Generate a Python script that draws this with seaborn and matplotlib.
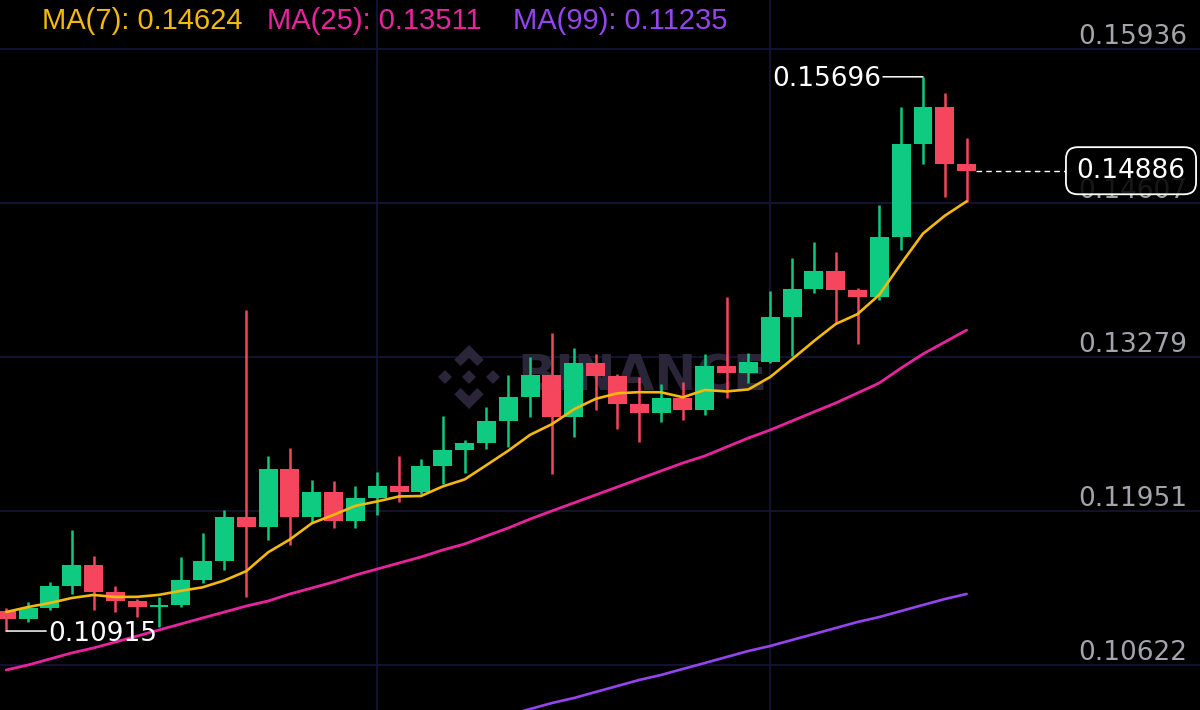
import numpy as np
import pandas as pd
import seaborn as sns
import matplotlib.pyplot as plt
import matplotlib.transforms as mtransforms
from matplotlib.patches import Polygon

# candle data
opens = [0.11088, 0.11019, 0.11114, 0.11304, 0.11485, 0.11252, 0.11174, 0.11122, 0.11140, 0.11355,
         0.11519, 0.11899, 0.11813, 0.12313, 0.11899, 0.12114, 0.11864, 0.12063, 0.12166, 0.12114,
         0.12339, 0.12477, 0.12537, 0.12727, 0.12934, 0.13124, 0.12761, 0.13227, 0.13115, 0.12874,
         0.12796, 0.12925, 0.12822, 0.13201, 0.13141, 0.13236, 0.13624, 0.13866, 0.14021, 0.13857,
         0.13797, 0.14314, 0.15117, 0.15436, 0.14944]
highs = [0.11114, 0.11165, 0.11338, 0.11787, 0.11562, 0.11304, 0.11191, 0.11209, 0.11554, 0.11761,
         0.11959, 0.13684, 0.12425, 0.12494, 0.12218, 0.12209, 0.12166, 0.12287, 0.12425, 0.12399,
         0.12770, 0.12563, 0.12848, 0.13124, 0.13279, 0.13486, 0.13357, 0.13305, 0.13132, 0.13107,
         0.13046, 0.13063, 0.13305, 0.13797, 0.13314, 0.13848, 0.14133, 0.14271, 0.14185, 0.13874,
         0.14590, 0.15436, 0.15696, 0.15556, 0.15168]
lows = [0.10915, 0.10993, 0.11097, 0.11235, 0.11097, 0.11079, 0.11036, 0.10950, 0.11122, 0.11329,
        0.11442, 0.11209, 0.11700, 0.11657, 0.11856, 0.11804, 0.11804, 0.11916, 0.12028, 0.12097,
        0.12183, 0.12278, 0.12485, 0.12503, 0.12761, 0.12270, 0.12589, 0.12822, 0.12658, 0.12546,
        0.12718, 0.12736, 0.12779, 0.12925, 0.13055, 0.13227, 0.13288, 0.13831, 0.13572, 0.13391,
        0.13771, 0.14202, 0.14944, 0.14659, 0.14616]
closes = [0.11019, 0.11114, 0.11304, 0.11485, 0.11252, 0.11174, 0.11122, 0.11140, 0.11355, 0.11519,
          0.11899, 0.11813, 0.12313, 0.11899, 0.12114, 0.11864, 0.12063, 0.12166, 0.12114, 0.12339,
          0.12477, 0.12537, 0.12727, 0.12934, 0.13124, 0.12761, 0.13227, 0.13115, 0.12874, 0.12796,
          0.12925, 0.12822, 0.13201, 0.13141, 0.13236, 0.13624, 0.13866, 0.14021, 0.13857, 0.13797,
          0.14314, 0.15117, 0.15436, 0.14944, 0.14886]

# moving averages (MA7 first points come from candles before the window)
ma7_head = [0.11079, 0.11122, 0.11157, 0.11200, 0.11226, 0.11209]
ma25 = [0.10579, 0.10622, 0.10674, 0.10726, 0.10769, 0.10820, 0.10872, 0.10924, 0.10976, 0.11028,
        0.11079, 0.11131, 0.11174, 0.11235, 0.11286, 0.11338, 0.11398, 0.11450, 0.11502, 0.11554,
        0.11614, 0.11666, 0.11735, 0.11804, 0.11881, 0.11951, 0.12020, 0.12089, 0.12158, 0.12227,
        0.12296, 0.12365, 0.12425, 0.12503, 0.12580, 0.12649, 0.12727, 0.12805, 0.12882, 0.12968,
        0.13055, 0.13184, 0.13305, 0.13408, 0.13511]
ma99_start = 23
ma99 = [0.10191, 0.10242, 0.10294, 0.10337, 0.10389, 0.10441, 0.10493, 0.10536, 0.10588, 0.10639,
        0.10691, 0.10743, 0.10786, 0.10838, 0.10889, 0.10941, 0.10993, 0.11036, 0.11088, 0.11140,
        0.11191, 0.11235]

price_ticks = [0.15936, 0.14607, 0.13279, 0.11951, 0.10622]
ma_labels = ["MA(7): 0.14624", "MA(25): 0.13511", "MA(99): 0.11235"]
high_label = "0.15696"
low_label = "0.10915"
last_price = 0.14886

GREEN = "#0ECB81"
RED = "#F6465D"
GRID = "#15153a"
LABEL = "#a3a3ab"
MA_COLORS = ["#F5B80C", "#E8239E", "#9544EE"]
WM = "#2a2538"

df = pd.DataFrame({"open": opens, "high": highs, "low": lows, "close": closes})
df["idx"] = np.arange(len(df))
df["ma7"] = df["close"].rolling(7).mean()
df.loc[:len(ma7_head) - 1, "ma7"] = ma7_head
df["ma25"] = ma25
df["ma99"] = np.nan
df.loc[ma99_start:, "ma99"] = ma99
df["up"] = df["close"] >= df["open"]

sns.set_theme(style="dark", rc={"axes.facecolor": "black", "figure.facecolor": "black"})
plt.rcParams["font.family"] = ["DejaVu Sans"]

fig = plt.figure(figsize=(12, 7.1), dpi=100)
ax = fig.add_axes([0, 0, 1, 1])
ax.set_facecolor("black")
ax.grid(False)
for s in ax.spines.values():
    s.set_visible(False)
ax.set_xticks([])
ax.set_yticks([])
ax.set_xlim(-0.284, 54.69)
ax.set_ylim(0.102338, 0.163587)

# grid
for p in price_ticks:
    ax.axhline(p, color=GRID, lw=1.2, zorder=1)
for xv in [17, 35]:
    ax.axvline(xv, color=GRID, lw=1.2, zorder=1)

# watermark
ax.text(517 / 1200, 1 - 377 / 710, "BINANCE", transform=ax.transAxes, ha="left", va="center",
        fontsize=36, fontweight="bold", color=WM, zorder=2)
cx, cy, sz = 469, 377, 32
shapes = [
    [(0, 0.22), (0.22, 0), (0, -0.22), (-0.22, 0)],
    [(-0.75, 0.22), (-0.53, 0), (-0.75, -0.22), (-0.97, 0)],
    [(0.75, 0.22), (0.97, 0), (0.75, -0.22), (0.53, 0)],
    [(0, 1), (0.46, 0.54), (0.26, 0.34), (0, 0.6), (-0.26, 0.34), (-0.46, 0.54)],
    [(0, -1), (0.46, -0.54), (0.26, -0.34), (0, -0.6), (-0.26, -0.34), (-0.46, -0.54)],
]
for shp in shapes:
    pts = [((cx + sz * u) / 1200, 1 - (cy - sz * v) / 710) for u, v in shp]
    ax.add_patch(Polygon(pts, closed=True, transform=ax.transAxes, color=WM, zorder=2, lw=0))

# candles
colors = np.where(df["up"], GREEN, RED)
ax.vlines(df["idx"], df["low"], df["high"], colors=colors, lw=1.8, zorder=3)
bottom = df[["open", "close"]].min(axis=1)
height = (df["close"] - df["open"]).abs().clip(lower=0.00008)
ax.bar(df["idx"], height, bottom=bottom, width=0.87, color=colors, lw=0, zorder=4)

# moving averages
sns.lineplot(x=df["idx"], y=df["ma99"], ax=ax, color=MA_COLORS[2], lw=1.9, zorder=5, legend=False)
sns.lineplot(x=df["idx"], y=df["ma25"], ax=ax, color=MA_COLORS[1], lw=2.0, zorder=5, legend=False)
sns.lineplot(x=df["idx"], y=df["ma7"], ax=ax, color=MA_COLORS[0], lw=1.9, zorder=6, legend=False)
ax.set_xlabel("")
ax.set_ylabel("")

# price labels on the right
trans = mtransforms.blended_transform_factory(ax.transAxes, ax.transData)
for p in price_ticks:
    ax.annotate(f"{p:.5f}", xy=(1, p), xycoords=trans, xytext=(-13, 5), textcoords="offset pixels",
                ha="right", va="baseline", color=LABEL, fontsize=19, zorder=7)

# high / low markers
hi_i = int(np.argmax(df["high"]))
lo_i = int(np.argmin(df["low"]))
ax.annotate("", xy=(hi_i, df["high"][hi_i]), xytext=(-40, 0), textcoords="offset pixels",
            arrowprops=dict(arrowstyle="-", color="white", lw=1.1, shrinkA=0, shrinkB=0), zorder=7)
ax.annotate(high_label, xy=(hi_i, df["high"][hi_i]), xytext=(-42, -9.5), textcoords="offset pixels",
            ha="right", va="baseline", color="white", fontsize=19, zorder=7)
ax.annotate("", xy=(lo_i, df["low"][lo_i]), xytext=(40, 0), textcoords="offset pixels",
            arrowprops=dict(arrowstyle="-", color="white", lw=1.1, shrinkA=0, shrinkB=0), zorder=7)
ax.annotate(low_label, xy=(lo_i, df["low"][lo_i]), xytext=(42, -9.5), textcoords="offset pixels",
            ha="left", va="baseline", color="white", fontsize=19, zorder=7)

# last price line + box (partly hides the 0.14607 label, as in the app)
ax.hlines(last_price, len(df) - 0.55, 48.5, colors="white", lw=1, linestyles=(0, (4, 3)), zorder=7)
ax.annotate(f"{last_price:.5f}", xy=(1, last_price), xycoords=trans, xytext=(-69, 0),
            textcoords="offset pixels", ha="center", va="center", color="white", fontsize=19, zorder=8,
            bbox=dict(boxstyle="round,pad=0.4,rounding_size=0.45", fc=(0, 0, 0, 0.85), ec="white", lw=1.3))

# MA legend on top
for x0, txt, col in zip([42, 267, 513], ma_labels, MA_COLORS):
    fig.text(x0 / 1200, 1 - 29 / 710, txt, ha="left", va="baseline", color=col, fontsize=21,
             family=["Liberation Sans", "DejaVu Sans"])

fig.savefig("out.png", dpi=100, facecolor="black")
